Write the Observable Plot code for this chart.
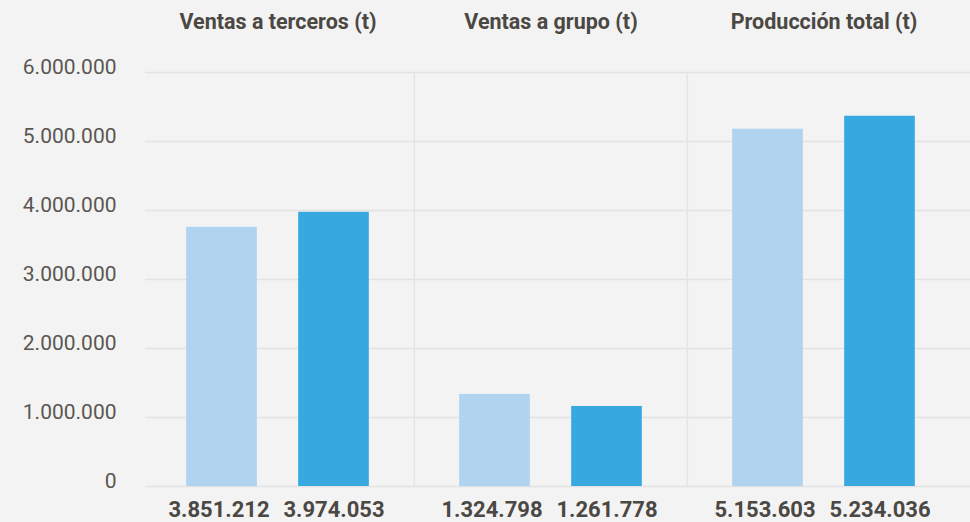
<!DOCTYPE html>
<html>
<head>
<meta charset="utf-8">
<script src="https://cdn.jsdelivr.net/npm/d3@7"></script>
<script src="https://cdn.jsdelivr.net/npm/@observablehq/plot@0.6"></script>
<style>
  html, body { margin: 0; padding: 0; background: #f3f3f3; }
  #chart svg { display: block; }
</style>
</head>
<body>
<div id="chart"></div>
<script>
// Data
const categorias = ["Ventas a terceros (t)", "Ventas a grupo (t)", "Producción total (t)"];
const valoresAnterior = [3756000, 1334000, 5178000];
const valoresActual = [3974000, 1160000, 5366000];
const etiquetasAnterior = ["3.851.212", "1.324.798", "5.153.603"];
const etiquetasActual = ["3.974.053", "1.261.778", "5.234.036"];
const yTicks = [0, 1000000, 2000000, 3000000, 4000000, 5000000, 6000000];

// Layout
const W = 970, H = 522;
const xRange = [140, 960];
const step = (xRange[1] - xRange[0]) / categorias.length;
const barW = 71, offset = 56;
const inset = (step - barW) / 2;

const fmt = d3.formatLocale({decimal: ",", thousands: ".", grouping: [3], currency: ["", " €"]}).format(",d");

const anterior = categorias.map((c, i) => ({cat: c, v: valoresAnterior[i], label: etiquetasAnterior[i]}));
const actual = categorias.map((c, i) => ({cat: c, v: valoresActual[i], label: etiquetasActual[i]}));

const chart = Plot.plot({
  width: W,
  height: H,
  marginLeft: 145,
  marginRight: 0,
  marginTop: 72,
  marginBottom: 36,
  style: {background: "#f3f3f3", fontFamily: "Roboto, sans-serif", fontSize: "21px", color: "#5a5651"},
  x: {type: "band", domain: categorias, range: xRange, padding: 0, axis: null},
  y: {domain: [0, 6000000], axis: null},
  marks: [
    Plot.ruleY(yTicks, {y: d => d, stroke: "#e2e2e2", strokeWidth: 1.5}),
    Plot.ruleX(categorias.slice(1), {x: d => d, dx: -step / 2, stroke: "#e4e4e4", strokeWidth: 1.5}),
    Plot.text(yTicks, {y: d => d, text: d => fmt(d), frameAnchor: "left", textAnchor: "end", dx: -29, dy: -5, fontSize: 21, fill: "#5a5651"}),
    Plot.barY(anterior, {x: "cat", y: "v", fill: "#b0d3f0", insetLeft: inset, insetRight: inset, dx: -offset}),
    Plot.barY(actual, {x: "cat", y: "v", fill: "#38a9e0", insetLeft: inset, insetRight: inset, dx: offset}),
    Plot.text(categorias, {x: d => d, text: d => d, frameAnchor: "top", dy: -59, fontSize: 21.5, fontWeight: "bold", fill: "#4b4743"}),
    Plot.text(anterior, {x: "cat", text: "label", frameAnchor: "bottom", dy: 30, dx: -offset - 3, fontSize: 22, fontWeight: "bold", fill: "#4b4743"}),
    Plot.text(actual, {x: "cat", text: "label", frameAnchor: "bottom", dy: 30, dx: offset, fontSize: 22, fontWeight: "bold", fill: "#4b4743"})
  ]
});
document.getElementById("chart").appendChild(chart);
</script>
</body>
</html>
